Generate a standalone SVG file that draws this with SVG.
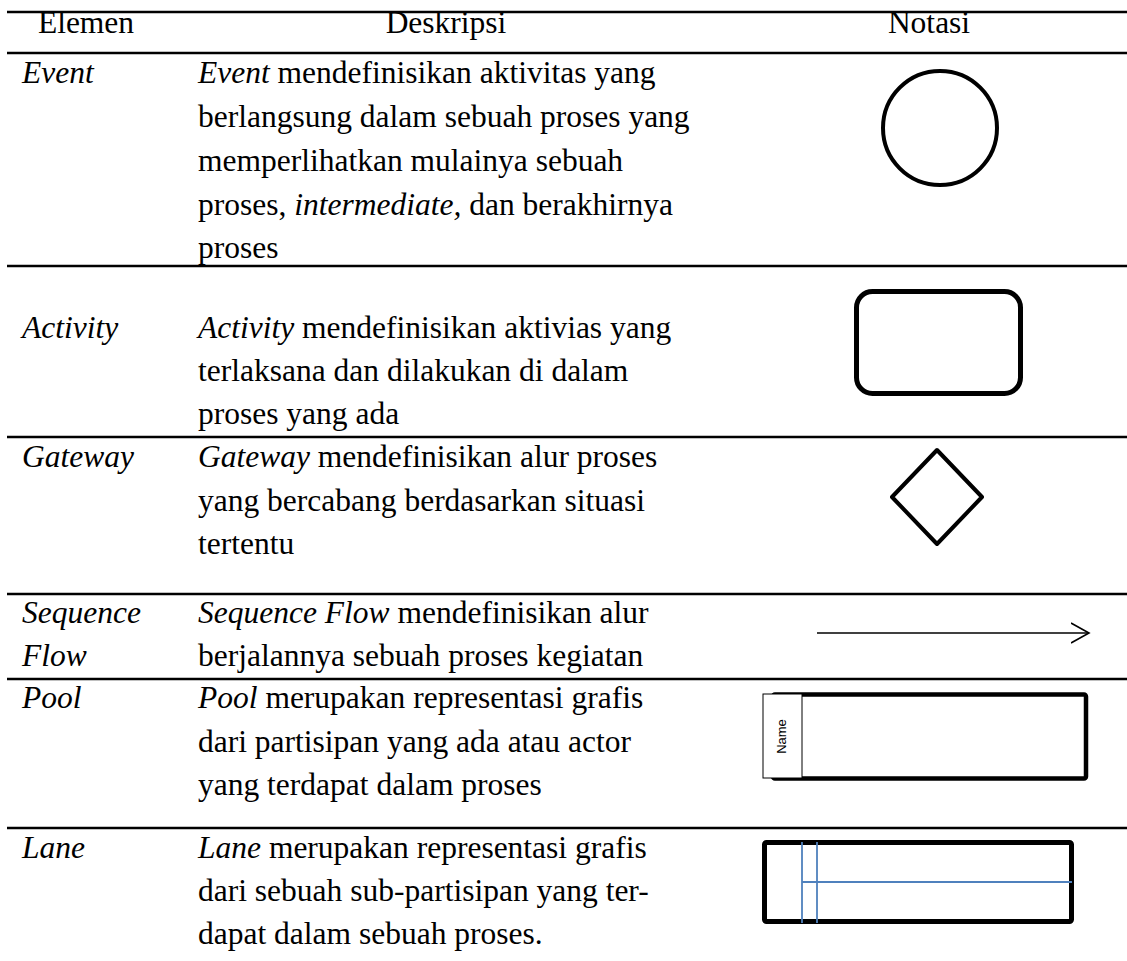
<svg xmlns="http://www.w3.org/2000/svg" width="1127" height="961" viewBox="0 0 1127 961">
<style>
text{font-family:"Liberation Serif","Times New Roman",serif;font-size:31.5px;fill:#000}
.i{font-style:italic}
.h{text-anchor:middle}
.rule{stroke:#000;stroke-width:2.5}
.shape{fill:none;stroke:#000}
.blue{stroke:#4f81bd;stroke-width:1.8}
.nm{font-family:"Liberation Sans",Arial,sans-serif;font-size:13px;text-anchor:middle}
</style>
<defs>
<marker id="open" markerWidth="20" markerHeight="24" refX="18" refY="11" orient="auto" markerUnits="userSpaceOnUse">
<polyline points="0,1 18,11 0,21" fill="none" stroke="#000" stroke-width="1.6"/>
</marker>
</defs>
<rect width="1127" height="961" fill="#fff"/>
<g id="table-rules">
<line class="rule" x1="7" y1="12" x2="1127" y2="12"/>
<line class="rule" x1="7" y1="53" x2="1127" y2="53"/>
<line class="rule" x1="7" y1="266" x2="1127" y2="266"/>
<line class="rule" x1="7" y1="437" x2="1127" y2="437"/>
<line class="rule" x1="7" y1="594" x2="1127" y2="594"/>
<line class="rule" x1="7" y1="679" x2="1127" y2="679"/>
<line class="rule" x1="7" y1="828" x2="1127" y2="828"/>
</g>
<g id="header">
<text class="h" x="86" y="33">Elemen</text>
<text class="h" x="446" y="33">Deskripsi</text>
<text class="h" x="929" y="33">Notasi</text>
</g>
<g id="event">
<text class="i" x="22" y="83">Event</text>
<text x="198" y="83"><tspan class="i">Event</tspan> mendefinisikan aktivitas yang</text>
<text x="198" y="127">berlangsung dalam sebuah proses yang</text>
<text x="198" y="171">memperlihatkan mulainya sebuah</text>
<text x="198" y="215">proses, <tspan class="i">intermediate,</tspan> dan berakhirnya</text>
<text x="198" y="258">proses</text>
<circle class="shape" cx="940" cy="128" r="57" stroke-width="4"/>
</g>
<g id="activity">
<text class="i" x="22" y="338">Activity</text>
<text x="198" y="338"><tspan class="i">Activity</tspan> mendefinisikan aktivias yang</text>
<text x="198" y="381">terlaksana dan dilakukan di dalam</text>
<text x="198" y="424">proses yang ada</text>
<rect class="shape" x="856.5" y="291.5" width="164" height="102" rx="16" stroke-width="5"/>
</g>
<g id="gateway">
<text class="i" x="22" y="467">Gateway</text>
<text x="198" y="467"><tspan class="i">Gateway</tspan> mendefinisikan alur proses</text>
<text x="198" y="511">yang bercabang berdasarkan situasi</text>
<text x="198" y="554">tertentu</text>
<polygon class="shape" points="937,450 982,497 937,544 892,497" stroke-width="4" stroke-linejoin="round"/>
</g>
<g id="sequence-flow">
<text class="i" x="22" y="623">Sequence</text>
<text class="i" x="22" y="666">Flow</text>
<text x="198" y="623"><tspan class="i">Sequence Flow</tspan> mendefinisikan alur</text>
<text x="198" y="666">berjalannya sebuah proses kegiatan</text>
</g>
<g id="connectors">
<line x1="817" y1="633" x2="1089" y2="633" stroke="#000" stroke-width="1.6" marker-end="url(#open)"/>
</g>
<g id="pool">
<text class="i" x="22" y="708">Pool</text>
<text x="198" y="708"><tspan class="i">Pool</tspan> merupakan representasi grafis</text>
<text x="198" y="752">dari partisipan yang ada atau actor</text>
<text x="198" y="795">yang terdapat dalam proses</text>
<rect class="shape" x="773" y="694.5" width="313" height="84" rx="2" stroke-width="4.5"/>
<rect x="763" y="694" width="39" height="84" fill="#fff" stroke="#000" stroke-width="1"/>
<text class="nm" transform="translate(786,736.5) rotate(-90)" x="0" y="0">Name</text>
</g>
<g id="lane">
<text class="i" x="22" y="858">Lane</text>
<text x="198" y="858"><tspan class="i">Lane</tspan> merupakan representasi grafis</text>
<text x="198" y="901">dari sebuah sub-partisipan yang ter-</text>
<text x="198" y="944">dapat dalam sebuah proses.</text>
<rect class="shape" x="764.5" y="842.5" width="307" height="79" rx="2" stroke-width="5"/>
<line class="blue" x1="802" y1="842" x2="802" y2="923"/>
<line class="blue" x1="817" y1="842" x2="817" y2="923"/>
<line class="blue" x1="802" y1="882" x2="1072" y2="882"/>
</g>
</svg>
